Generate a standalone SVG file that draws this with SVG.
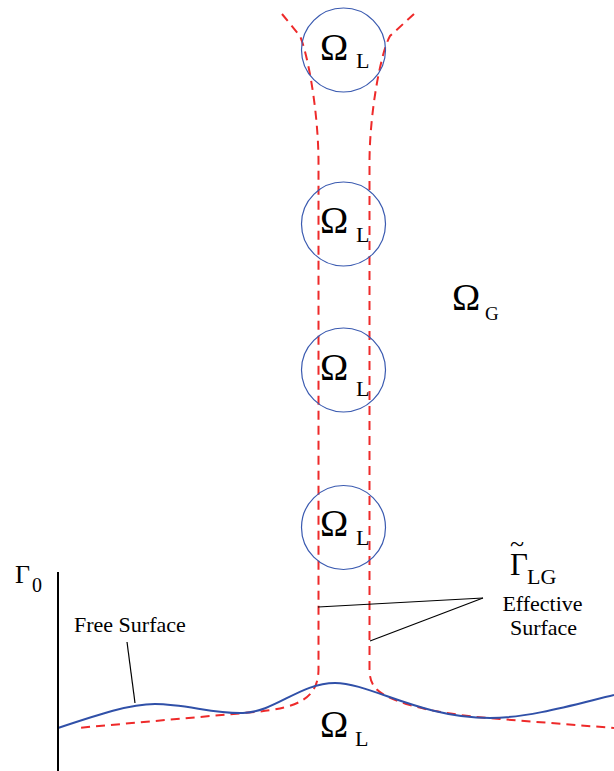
<svg xmlns="http://www.w3.org/2000/svg" width="614" height="771" viewBox="0 0 614 771">
<style>
.bg{fill:#ffffff}
.drop{fill:none;stroke:#3a5ab0;stroke-width:1.2}
.surf{fill:none;stroke:#3050a8;stroke-width:2}
.eff{fill:none;stroke:#ee2a2a;stroke-width:2;stroke-dasharray:9 6}
.lead{fill:none;stroke:#000;stroke-width:1.2}
.axis{fill:none;stroke:#000;stroke-width:2}
.t{font-family:"Liberation Serif","DejaVu Serif",serif;fill:#000}
.om{font-size:38px}
.sub{font-size:22px}
.lbl{font-size:22px}
</style>
<rect class="bg" x="0" y="0" width="614" height="771"/>
<g id="connectors">
  <path class="eff" d="M282,14 L300,36 C308,55 318,110 318.5,160 L318.5,670 C318,697 300,708 255,712 L77,728"/>
  <path class="eff" d="M414,14 L390,36 C381,52 370,110 369.5,160 L369.5,670 C370,688 378,695 410,705 C430,711 460,716 500,719 L614,728"/>
  <path class="surf" d="M58,728 C100,714 130,704 155,704 C185,704 215,714 243,713 C275,712 300,683 335,683 C370,683 420,718 490,718 C530,718 580,703 614,695"/>
  <line class="axis" x1="58" y1="572" x2="58" y2="771"/>
  <line class="lead" x1="127" y1="642" x2="135" y2="703"/>
  <line class="lead" x1="318" y1="607" x2="483" y2="598"/>
  <line class="lead" x1="370" y1="641" x2="483" y2="598"/>
</g>
<g id="drop1">
  <circle class="drop" cx="343.5" cy="50" r="42"/>
  <text class="t om" x="320" y="60">Ω</text><text class="t sub" x="356" y="68">L</text>
</g>
<g id="drop2">
  <circle class="drop" cx="343.5" cy="224" r="42"/>
  <text class="t om" x="320" y="233">Ω</text><text class="t sub" x="356" y="242">L</text>
</g>
<g id="drop3">
  <circle class="drop" cx="343.5" cy="370" r="42"/>
  <text class="t om" x="320" y="380">Ω</text><text class="t sub" x="356" y="396">L</text>
</g>
<g id="drop4">
  <circle class="drop" cx="343.5" cy="527.5" r="42"/>
  <text class="t om" x="320" y="536">Ω</text><text class="t sub" x="356" y="545">L</text>
</g>
<g id="gas">
  <text class="t om" x="452" y="310">Ω</text><text class="t sub" x="485" y="320" style="font-size:19px">G</text>
</g>
<g id="liquid-pool">
  <text class="t om" x="320" y="737">Ω</text><text class="t sub" x="355" y="746">L</text>
</g>
<g id="gamma0">
  <text class="t" x="15" y="583" style="font-size:26px">Γ</text><text class="t" x="32" y="592" style="font-size:20px">0</text>
</g>
<g id="gammaLG">
  <text class="t" style="font-size:31px"><tspan x="510" y="552" style="font-size:26px">~</tspan><tspan x="510" y="575">Γ</tspan><tspan x="527" y="584" style="font-size:22px">LG</tspan></text>
  <text class="t lbl" x="542.5" y="611" text-anchor="middle">Effective</text>
  <text class="t lbl" x="543.5" y="635" text-anchor="middle">Surface</text>
</g>
<g id="free-surface">
  <text class="t lbl" x="74" y="632">Free Surface</text>
</g>
</svg>
